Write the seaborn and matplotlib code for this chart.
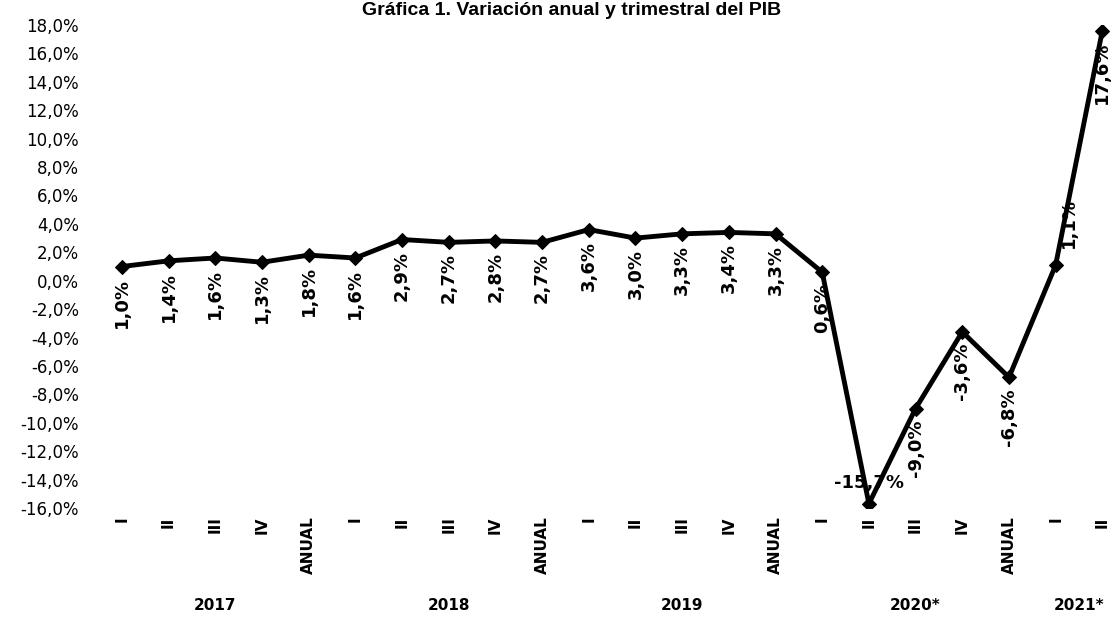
import numpy as np
import pandas as pd
import seaborn as sns
import matplotlib.pyplot as plt
import matplotlib.transforms as mtransforms

# Data (percent change)
quarters = ["I", "II", "III", "IV", "ANUAL",
            "I", "II", "III", "IV", "ANUAL",
            "I", "II", "III", "IV", "ANUAL",
            "I", "II", "III", "IV", "ANUAL",
            "I", "II"]
years = ["2017", "2018", "2019", "2020*", "2021*"]
year_sizes = [5, 5, 5, 5, 2]
pib = [1.0, 1.4, 1.6, 1.3, 1.8,
       1.6, 2.9, 2.7, 2.8, 2.7,
       3.6, 3.0, 3.3, 3.4, 3.3,
       0.6, -15.7, -9.0, -3.6, -6.8,
       1.1, 17.6]

sns.set_style("white")
plt.rcParams['font.family'] = ['DejaVu Sans']
plt.rcParams['text.color'] = 'black'
plt.rcParams['xtick.color'] = 'black'
plt.rcParams['ytick.color'] = 'black'

df = pd.DataFrame({"pos": np.arange(len(pib)), "pib": pib})

fig = plt.figure(figsize=(11.14, 6.18), dpi=100)
ax = fig.add_axes([0.0885, 0.178, 0.9115, 0.7815])

sns.lineplot(data=df, x="pos", y="pib", ax=ax, color="black", lw=3.5,
             marker="D", markersize=7, markerfacecolor="black",
             markeredgecolor="black", sort=False)

ax.set_xlim(-0.5, 21.25)
ax.set_ylim(-16, 18)
yt = np.arange(-16, 19, 2)
ax.set_yticks(yt)
ax.set_yticklabels([f"{v:.1f}%".replace(".", ",") for v in yt], fontsize=12)
ax.set_xticks(df["pos"])
ax.set_xticklabels(quarters, rotation=90, fontsize=11, fontweight="bold",
                   va="top", ha="center")
ax.tick_params(axis="y", length=0, pad=14)
ax.tick_params(axis="x", length=0, pad=6)
ax.set_xlabel("")
ax.set_ylabel("")
sns.despine(ax=ax, left=True, bottom=True)

# data labels
px = 0.72  # points per pixel at dpi 100
for i, v in enumerate(pib):
    txt = f"{v:.1f}%".replace(".", ",")
    if v == -15.7:
        ax.annotate(txt, (i, v), xytext=(0, 12 * px), textcoords="offset points",
                    ha="center", va="bottom", fontsize=13, fontweight="bold")
    elif i == 20:
        ax.annotate(txt, (i, v), xytext=(13 * px, 17 * px), textcoords="offset points",
                    ha="center", va="bottom", rotation=90, fontsize=13,
                    fontweight="bold")
    else:
        ax.annotate(txt, (i, v), xytext=(0, -11 * px), textcoords="offset points",
                    ha="center", va="top", rotation=90, fontsize=13,
                    fontweight="bold")

# year group labels
trans = mtransforms.blended_transform_factory(ax.transData, fig.transFigure)
start = 0
for yr, n in zip(years, year_sizes):
    ax.text(start + (n - 1) / 2, 1 - 606 / 618, yr, transform=trans,
            ha="center", va="center", fontsize=11, fontweight="bold")
    start += n

fig.text(0.513, 1 - 15 / 618, "Gráfica 1. Variación anual y trimestral del PIB",
         ha="center", va="baseline", fontsize=14, fontweight="bold",
         family="Liberation Sans")

fig.savefig("out.png", dpi=100)
